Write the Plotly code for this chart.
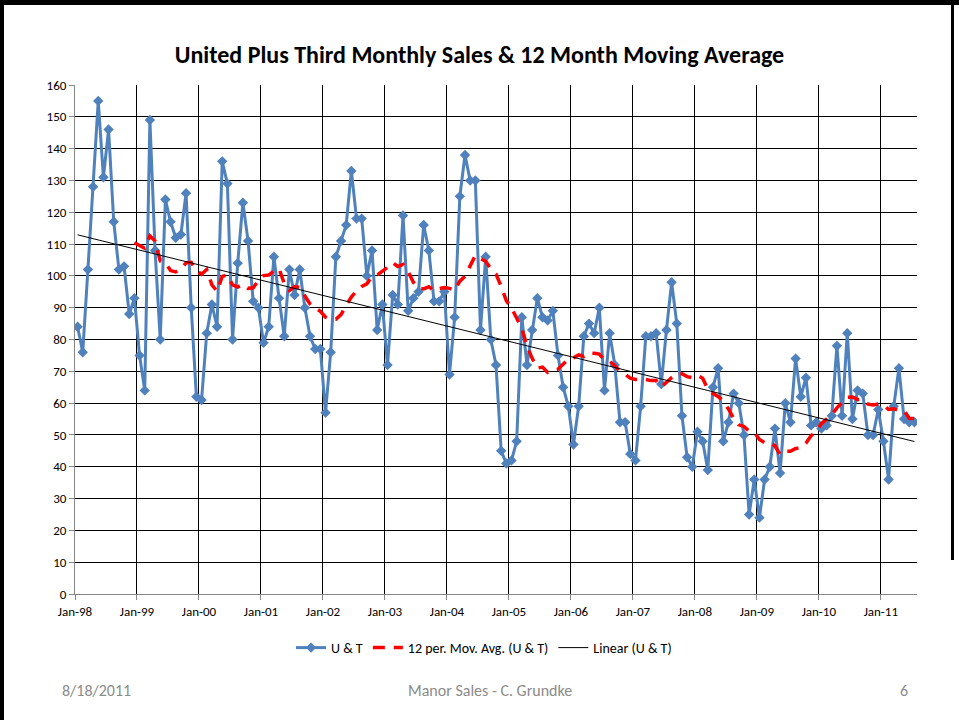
import numpy as np
import plotly.graph_objects as go

# Monthly sales, Jan-98 .. Jul-11 (163 months)
sales_1998 = [84, 76, 102, 128, 155, 131, 146, 117, 102, 103, 88, 93]
sales_1999 = [75, 64, 149, 108, 80, 124, 117, 112, 113, 126, 90, 62]
sales_2000 = [61, 82, 91, 84, 136, 129, 80, 104, 123, 111, 92, 90]
sales_2001 = [79, 84, 106, 93, 81, 102, 94, 102, 90, 81, 77, 77]
sales_2002 = [57, 76, 106, 111, 116, 133, 118, 118, 100, 108, 83, 91]
sales_2003 = [72, 94, 91, 119, 89, 93, 95, 116, 108, 92, 92, 95]
sales_2004 = [69, 87, 125, 138, 130, 130, 83, 106, 80, 72, 45, 41]
sales_2005 = [42, 48, 87, 72, 83, 93, 87, 86, 89, 75, 65, 59]
sales_2006 = [47, 59, 81, 85, 82, 90, 64, 82, 72, 54, 54, 44]
sales_2007 = [42, 59, 81, 81, 82, 66, 83, 98, 85, 56, 43, 40]
sales_2008 = [51, 48, 39, 65, 71, 48, 54, 63, 60, 50, 25, 36]
sales_2009 = [24, 36, 40, 52, 38, 60, 54, 74, 62, 68, 53, 54]
sales_2010 = [52, 53, 56, 78, 56, 82, 55, 64, 63, 50, 50, 58]
sales_2011 = [48, 36, 59, 71, 55, 54, 54]

year_labels = ["Jan-98", "Jan-99", "Jan-00", "Jan-01", "Jan-02", "Jan-03", "Jan-04",
               "Jan-05", "Jan-06", "Jan-07", "Jan-08", "Jan-09", "Jan-10", "Jan-11"]

sales = (sales_1998 + sales_1999 + sales_2000 + sales_2001 + sales_2002 + sales_2003 +
         sales_2004 + sales_2005 + sales_2006 + sales_2007 + sales_2008 + sales_2009 +
         sales_2010 + sales_2011)
n = len(sales)
x = np.arange(n)
y = np.array(sales, dtype=float)

# 12-period moving average (as Excel trendline)
ma = [None] * 11 + [float(np.mean(y[i - 11:i + 1])) for i in range(11, n)]
# Linear trendline
slope, intercept = np.polyfit(x, y, 1)
trend = slope * x + intercept

FONT = "Carlito, Lato, 'Open Sans', sans-serif"

fig = go.Figure()
fig.add_trace(go.Scatter(
    x=x, y=y, mode="lines+markers", name="U & T",
    line=dict(color="#4F81BD", width=3),
    marker=dict(symbol="diamond", size=8, color="#4F81BD"),
))
fig.add_trace(go.Scatter(
    x=x, y=ma, mode="lines", name="12 per. Mov. Avg. (U & T)",
    line=dict(color="#FF0000", width=3.5, dash="12px,9px"),
))
fig.add_trace(go.Scatter(
    x=x, y=trend, mode="lines", name="Linear (U & T)",
    line=dict(color="#000000", width=1),
))

L, R, T, B = 75, 917, 85, 594
W, H = 959, 720
pw, ph = R - L, B - T


def px(p):
    return (p - L) / pw


def py(q):
    return (B - q) / ph


shapes = [
    # slide frame
    dict(type="rect", xref="paper", yref="paper", x0=px(0), x1=px(W), y0=py(5), y1=py(-2),
         fillcolor="black", line=dict(width=0), layer="above"),
    dict(type="rect", xref="paper", yref="paper", x0=px(0), x1=px(4), y0=py(H + 2), y1=py(0),
         fillcolor="black", line=dict(width=0), layer="above"),
    dict(type="rect", xref="paper", yref="paper", x0=px(951), x1=px(954), y0=py(560), y1=py(0),
         fillcolor="black", line=dict(width=0), layer="above"),
]

annotations = [
    dict(text="8/18/2011", xref="paper", yref="paper", x=px(60), y=py(690),
         xanchor="left", yanchor="middle", showarrow=False,
         font=dict(family=FONT, size=16, color="#8B8B8B")),
    dict(text="Manor Sales - C. Grundke", xref="paper", yref="paper", x=px(490), y=py(690),
         xanchor="center", yanchor="middle", showarrow=False,
         font=dict(family=FONT, size=16, color="#8B8B8B")),
    dict(text="6", xref="paper", yref="paper", x=px(910), y=py(690),
         xanchor="right", yanchor="middle", showarrow=False,
         font=dict(family=FONT, size=16, color="#8B8B8B")),
]

fig.update_layout(
    width=W, height=H,
    margin=dict(l=L, r=W - R, t=T, b=H - B),
    paper_bgcolor="white", plot_bgcolor="white",
    title=dict(text="<b>United Plus Third Monthly Sales & 12 Month Moving Average</b>",
               x=0.5, xref="container", xanchor="center",
               y=1 - 55 / H, yref="container", yanchor="middle",
               font=dict(family=FONT, size=24, color="black")),
    font=dict(family=FONT, size=13, color="black"),
    showlegend=True,
    legend=dict(orientation="h", x=px(484), xanchor="center", y=py(648), yanchor="middle",
                font=dict(family=FONT, size=14, color="black"), bgcolor="rgba(0,0,0,0)",
                itemwidth=30, tracegroupgap=0),
    shapes=shapes,
    annotations=annotations,
    hovermode=False,
)

fig.update_xaxes(
    range=[-0.5, n - 0.5],
    tickmode="array",
    tickvals=[-0.5 + 12 * k for k in range(len(year_labels))],
    ticktext=year_labels,
    showgrid=True, gridcolor="black", gridwidth=1,
    showline=True, linecolor="#868686", linewidth=1,
    ticks="outside", ticklen=5, tickcolor="#868686",
    zeroline=False,
    tickfont=dict(family=FONT, size=13, color="black"),
)
fig.update_yaxes(
    range=[0, 160], dtick=10, tick0=0,
    showgrid=True, gridcolor="black", gridwidth=1,
    showline=True, linecolor="#868686", linewidth=1,
    ticks="outside", ticklen=5, tickcolor="#868686",
    zeroline=False,
    tickfont=dict(family=FONT, size=13, color="black"),
)

fig.write_html("out.html", config={"displayModeBar": False},
               post_script="document.body.style.margin='0';")
